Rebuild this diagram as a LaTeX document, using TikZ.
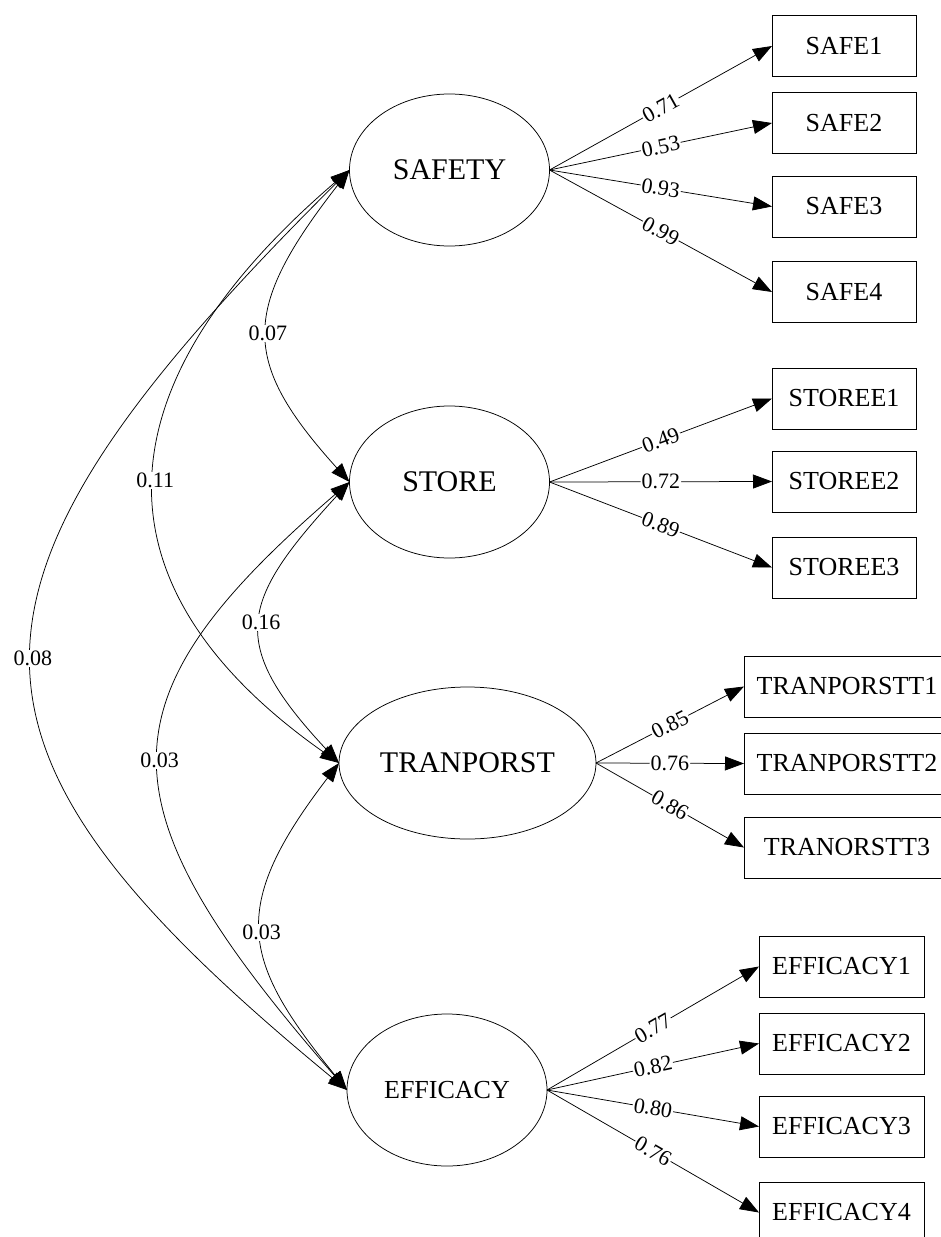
\documentclass[tikz,border=0pt]{standalone}
\usepackage{fontspec}
\setmainfont{Liberation Serif}
\usepackage{tikz}
\usetikzlibrary{shapes.geometric, arrows.meta, positioning}

\begin{document}
\begin{tikzpicture}[
    x=1pt, y=-1pt, line width=0.75pt,
    latent/.style={ellipse, draw, outer sep=0pt, minimum width=200pt, minimum height=152pt, font=\fontsize{30}{36}\selectfont},
    indicator/.style={rectangle, draw, outer sep=0pt, minimum width=144pt, minimum height=61pt, font=\fontsize{26}{31}\selectfont},
    load/.style={-{Triangle[length=19pt, width=14pt]}},
    cov/.style={{Triangle[length=19pt, width=14pt]}-{Triangle[length=19pt, width=14pt]}},
    coef/.style={fill=white, inner sep=1pt, font=\fontsize{22}{26}\selectfont},
]
    \useasboundingbox (0,0) rectangle (941,1237);

    % latent factors
    \node[latent] (safety) at (449.5,170) {SAFETY};
    \node[latent] (store) at (449.5,482) {STORE};
    \node[latent, minimum width=231pt] (tranporst) at (467.5,763) {TRANPORST};
    \node[latent, font=\fontsize{26}{31}\selectfont] (efficacy) at (447,1090) {EFFICACY};

    % indicators
    \node[indicator] (safe1) at (844,46) {SAFE1};
    \node[indicator] (safe2) at (844,123) {SAFE2};
    \node[indicator] (safe3) at (844,206.5) {SAFE3};
    \node[indicator] (safe4) at (844,292) {SAFE4};
    \node[indicator] (storee1) at (844,398.5) {STOREE1};
    \node[indicator] (storee2) at (844,481.5) {STOREE2};
    \node[indicator] (storee3) at (844,567.5) {STOREE3};
    \node[indicator, minimum width=206pt] (tran1) at (847,686.5) {TRANPORSTT1};
    \node[indicator, minimum width=206pt] (tran2) at (847,763.5) {TRANPORSTT2};
    \node[indicator, minimum width=206pt] (tran3) at (847,847.5) {TRANORSTT3};
    \node[indicator, minimum width=165pt] (eff1) at (841.5,966.5) {EFFICACY1};
    \node[indicator, minimum width=165pt] (eff2) at (841.5,1043.5) {EFFICACY2};
    \node[indicator, minimum width=165pt] (eff3) at (841.5,1126.5) {EFFICACY3};
    \node[indicator, minimum width=165pt] (eff4) at (841.5,1212.5) {EFFICACY4};

    % loadings
    \draw[load] (safety.east) -- node[coef, sloped] {0.71} (safe1.west);
    \draw[load] (safety.east) -- node[coef, sloped] {0.53} (safe2.west);
    \draw[load] (safety.east) -- node[coef, sloped] {0.93} (safe3.west);
    \draw[load] (safety.east) -- node[coef, sloped] {0.99} (safe4.west);
    \draw[load] (store.east) -- node[coef, sloped] {0.49} (storee1.west);
    \draw[load] (store.east) -- node[coef, sloped] {0.72} (storee2.west);
    \draw[load] (store.east) -- node[coef, sloped] {0.89} (storee3.west);
    \draw[load] (tranporst.east) -- node[coef, sloped] {0.85} (tran1.west);
    \draw[load] (tranporst.east) -- node[coef, sloped] {0.76} (tran2.west);
    \draw[load] (tranporst.east) -- node[coef, sloped] {0.86} (tran3.west);
    \draw[load] (efficacy.east) -- node[coef, sloped] {0.77} (eff1.west);
    \draw[load] (efficacy.east) -- node[coef, sloped] {0.82} (eff2.west);
    \draw[load] (efficacy.east) -- node[coef, sloped] {0.80} (eff3.west);
    \draw[load] (efficacy.east) -- node[coef, sloped] {0.76} (eff4.west);

    % covariances
    \draw[cov] (safety.west) .. controls +(-422,420) and +(-419,-345) .. node[coef] {0.08} (efficacy.west);
    \draw[cov] (safety.west) .. controls +(-251,215) and +(-253,-178) .. node[coef] {0.11} (tranporst.west);
    \draw[cov] (store.west) .. controls +(-253,218) and +(-250,-287) .. node[coef] {0.03} (efficacy.west);
    \draw[cov] (safety.west) .. controls +(-109,140) and +(-109,-121) .. node[coef] {0.07} (store.west);
    \draw[cov] (store.west) .. controls +(-110,120) and +(-112,-120) .. node[coef] {0.16} (tranporst.west);
    \draw[cov] (tranporst.west) .. controls +(-111,145) and +(-106,-130) .. node[coef] {0.03} (efficacy.west);
\end{tikzpicture}
\end{document}
